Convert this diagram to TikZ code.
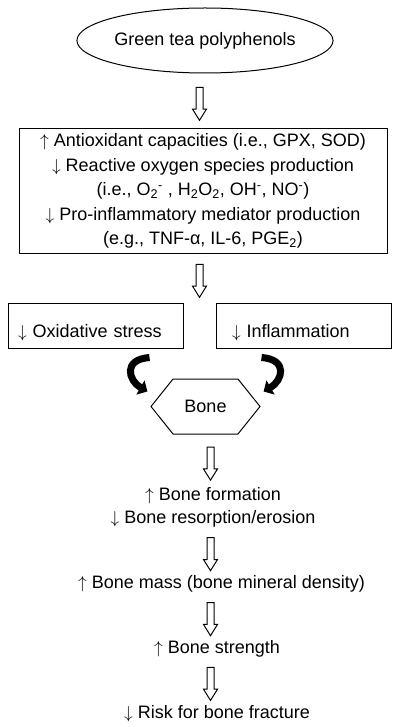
\documentclass[tikz,border=0pt]{standalone}
\usepackage{fontspec}
\setmainfont{Liberation Sans}
\usetikzlibrary{positioning,shapes.geometric,shapes.arrows,shapes.symbols,arrows.meta}
\newcommand{\up}{$\uparrow$}
\newcommand{\dn}{$\downarrow$}

\begin{document}
\begin{tikzpicture}[x=1pt,y=-1pt,line width=1pt,font=\fontsize{18pt}{24.4pt}\selectfont,
ov/.style={draw,ellipse,minimum width=220pt,minimum height=65pt,inner sep=0pt},
bx/.style={draw,rectangle,minimum width=368pt,minimum height=124pt,align=center,inner sep=0pt},
sbx/.style={draw,rectangle,minimum width=175pt,minimum height=45pt,align=left,
  text height=23pt,text depth=0pt,inner ysep=0pt},
hx/.style={draw,signal,signal to=east and west,signal pointer angle=102.6,
  minimum width=109pt,minimum height=55pt,inner sep=0pt},
tx/.style={inner sep=0pt,align=center},
hol/.style={draw,fill=white,single arrow,rotate=-90,inner sep=3pt,minimum height=33pt,
  single arrow head extend=3.5pt,single arrow tip angle=64},
curl/.style={line width=7pt,-{Triangle[length=8pt,width=16pt]}}]
\useasboundingbox (0,0) rectangle (400,727);
\node[ov] (green) at (205,40.5) {Green tea polyphenols\hspace{10pt}};
\node[bx] (box1) at (203,191) {\up{} Antioxidant capacities (i.e., GPX, SOD)\\
  \dn{} Reactive oxygen species production\\
  (i.e., O\textsubscript{2}\textsuperscript{-} , H\textsubscript{2}O\textsubscript{2}, OH\textsuperscript{-}, NO\textsuperscript{-})\\
  \dn{} Pro-inflammatory mediator production\\
  (e.g., TNF-α, IL-6, PGE\textsubscript{2})};
\node[sbx,inner xsep=10pt,text width=155pt] (oxi) at (95.5,325.5) {\dn{} Oxidative stress};
\node[sbx,inner xsep=16pt,text width=143pt] (infl) at (303.5,325.5) {\dn{} Inflammation};
\node[hx] (bone) at (205.5,406.5) {Bone};
\node[tx,font=\fontsize{18pt}{23pt}\selectfont] (form) at (213,507.5) {\up{} Bone formation\\\dn{} Bone resorption/erosion};
\node[tx,anchor=base] (mass) at (221.5,588.5) {\up{} Bone mass (bone mineral density)};
\node[tx,anchor=base] (strength) at (217,653.5) {\up{} Bone strength};
\node[tx,anchor=base] (risk) at (217,718) {\dn{} Risk for bone fracture};
\coordinate (upper) at (199.5,0);
\coordinate (lower) at (210.5,0);
\path (green.south -| upper) -- node[hol]{} (box1.north -| upper);
\path (box1.south -| upper) -- node[hol]{} (oxi.north -| upper);
\path (bone.south -| lower) -- node[hol]{} (form.north -| lower);
\path (form.south -| lower) -- node[hol]{} (mass.north -| lower);
\path (mass.south -| lower) -- node[hol]{} (strength.north -| lower);
\path (strength.south -| lower) -- node[hol]{} (risk.north -| lower);
\draw[curl] ([shift={(-34,9)}]oxi.south east) .. controls +(-27,2) and +(-19,-11) .. ([shift={(-3,-15)}]bone.west);
\draw[curl] ([shift={(46,9)}]infl.south west) .. controls +(27,2) and +(19,-11) .. ([shift={(3,-15)}]bone.east);
\end{tikzpicture}
\end{document}
